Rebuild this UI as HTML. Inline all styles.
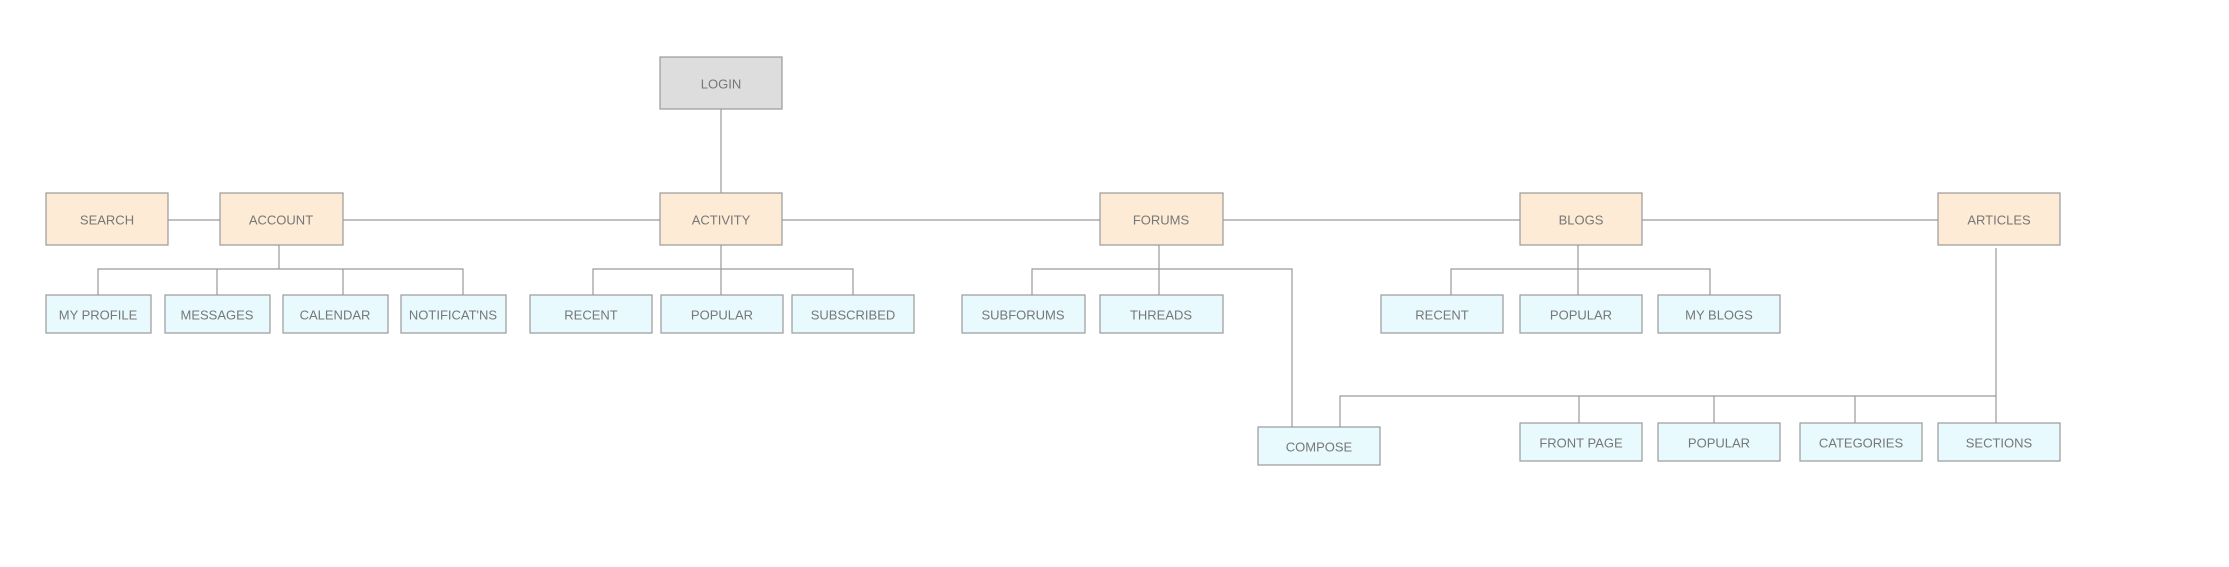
<!DOCTYPE html>
<html><head><meta charset="utf-8"><style>
html,body{margin:0;padding:0;background:#fff;}
svg{display:block;}
text{font-family:"Liberation Sans",sans-serif;font-size:13px;fill:#777;text-anchor:middle;dominant-baseline:central;}
</style></head><body>
<svg width="2229" height="567" viewBox="0 0 2229 567" xmlns="http://www.w3.org/2000/svg">
<g stroke="#9a9a9a" stroke-width="1.2" fill="none">
<line x1="721" y1="109" x2="721" y2="193"/>
<line x1="168" y1="220" x2="220" y2="220"/>
<line x1="343" y1="220" x2="660" y2="220"/>
<line x1="782" y1="220" x2="1100" y2="220"/>
<line x1="1223" y1="220" x2="1520" y2="220"/>
<line x1="1642" y1="220" x2="1938" y2="220"/>
<!-- account -->
<line x1="279" y1="245" x2="279" y2="269"/>
<polyline points="98,295 98,269 463,269 463,295"/>
<line x1="217" y1="269" x2="217" y2="295"/>
<line x1="343" y1="269" x2="343" y2="295"/>
<!-- activity -->
<line x1="721" y1="245" x2="721" y2="295"/>
<polyline points="593,295 593,269 853,269 853,295"/>
<!-- forums -->
<line x1="1159" y1="245" x2="1159" y2="295"/>
<polyline points="1032,295 1032,269 1292,269 1292,427"/>
<!-- blogs -->
<line x1="1578" y1="245" x2="1578" y2="295"/>
<polyline points="1451,295 1451,269 1710,269 1710,295"/>
<!-- articles -->
<line x1="1996" y1="248" x2="1996" y2="423"/>
<polyline points="1340,427 1340,396 1996,396"/>
<line x1="1579" y1="396" x2="1579" y2="423"/>
<line x1="1714" y1="396" x2="1714" y2="423"/>
<line x1="1855" y1="396" x2="1855" y2="423"/>
</g>
<g stroke="#999" stroke-width="1.2">
<rect x="660" y="57" width="122" height="52" fill="#dddddd"/>
<g fill="#fdebd5">
<rect x="46" y="193" width="122" height="52"/>
<rect x="220" y="193" width="123" height="52"/>
<rect x="660" y="193" width="122" height="52"/>
<rect x="1100" y="193" width="123" height="52"/>
<rect x="1520" y="193" width="122" height="52"/>
<rect x="1938" y="193" width="122" height="52"/>
</g>
<g fill="#e8fafe">
<rect x="46" y="295" width="105" height="38"/>
<rect x="165" y="295" width="105" height="38"/>
<rect x="283" y="295" width="105" height="38"/>
<rect x="401" y="295" width="105" height="38"/>
<rect x="530" y="295" width="122" height="38"/>
<rect x="661" y="295" width="122" height="38"/>
<rect x="792" y="295" width="122" height="38"/>
<rect x="962" y="295" width="123" height="38"/>
<rect x="1100" y="295" width="123" height="38"/>
<rect x="1381" y="295" width="122" height="38"/>
<rect x="1520" y="295" width="122" height="38"/>
<rect x="1658" y="295" width="122" height="38"/>
<rect x="1258" y="427" width="122" height="38"/>
<rect x="1520" y="423" width="122" height="38"/>
<rect x="1658" y="423" width="122" height="38"/>
<rect x="1800" y="423" width="122" height="38"/>
<rect x="1938" y="423" width="122" height="38"/>
</g>
</g>
<text x="721" y="84">LOGIN</text>
<text x="107" y="220">SEARCH</text>
<text x="281" y="220">ACCOUNT</text>
<text x="721" y="220">ACTIVITY</text>
<text x="1161" y="220">FORUMS</text>
<text x="1581" y="220">BLOGS</text>
<text x="1999" y="220">ARTICLES</text>
<text x="98" y="315">MY PROFILE</text>
<text x="217" y="315">MESSAGES</text>
<text x="335" y="315">CALENDAR</text>
<text x="453" y="315">NOTIFICAT'NS</text>
<text x="591" y="315">RECENT</text>
<text x="722" y="315">POPULAR</text>
<text x="853" y="315">SUBSCRIBED</text>
<text x="1023" y="315">SUBFORUMS</text>
<text x="1161" y="315">THREADS</text>
<text x="1442" y="315">RECENT</text>
<text x="1581" y="315">POPULAR</text>
<text x="1719" y="315">MY BLOGS</text>
<text x="1319" y="447">COMPOSE</text>
<text x="1581" y="443">FRONT PAGE</text>
<text x="1719" y="443">POPULAR</text>
<text x="1861" y="443">CATEGORIES</text>
<text x="1999" y="443">SECTIONS</text>
</svg>
</body></html>
